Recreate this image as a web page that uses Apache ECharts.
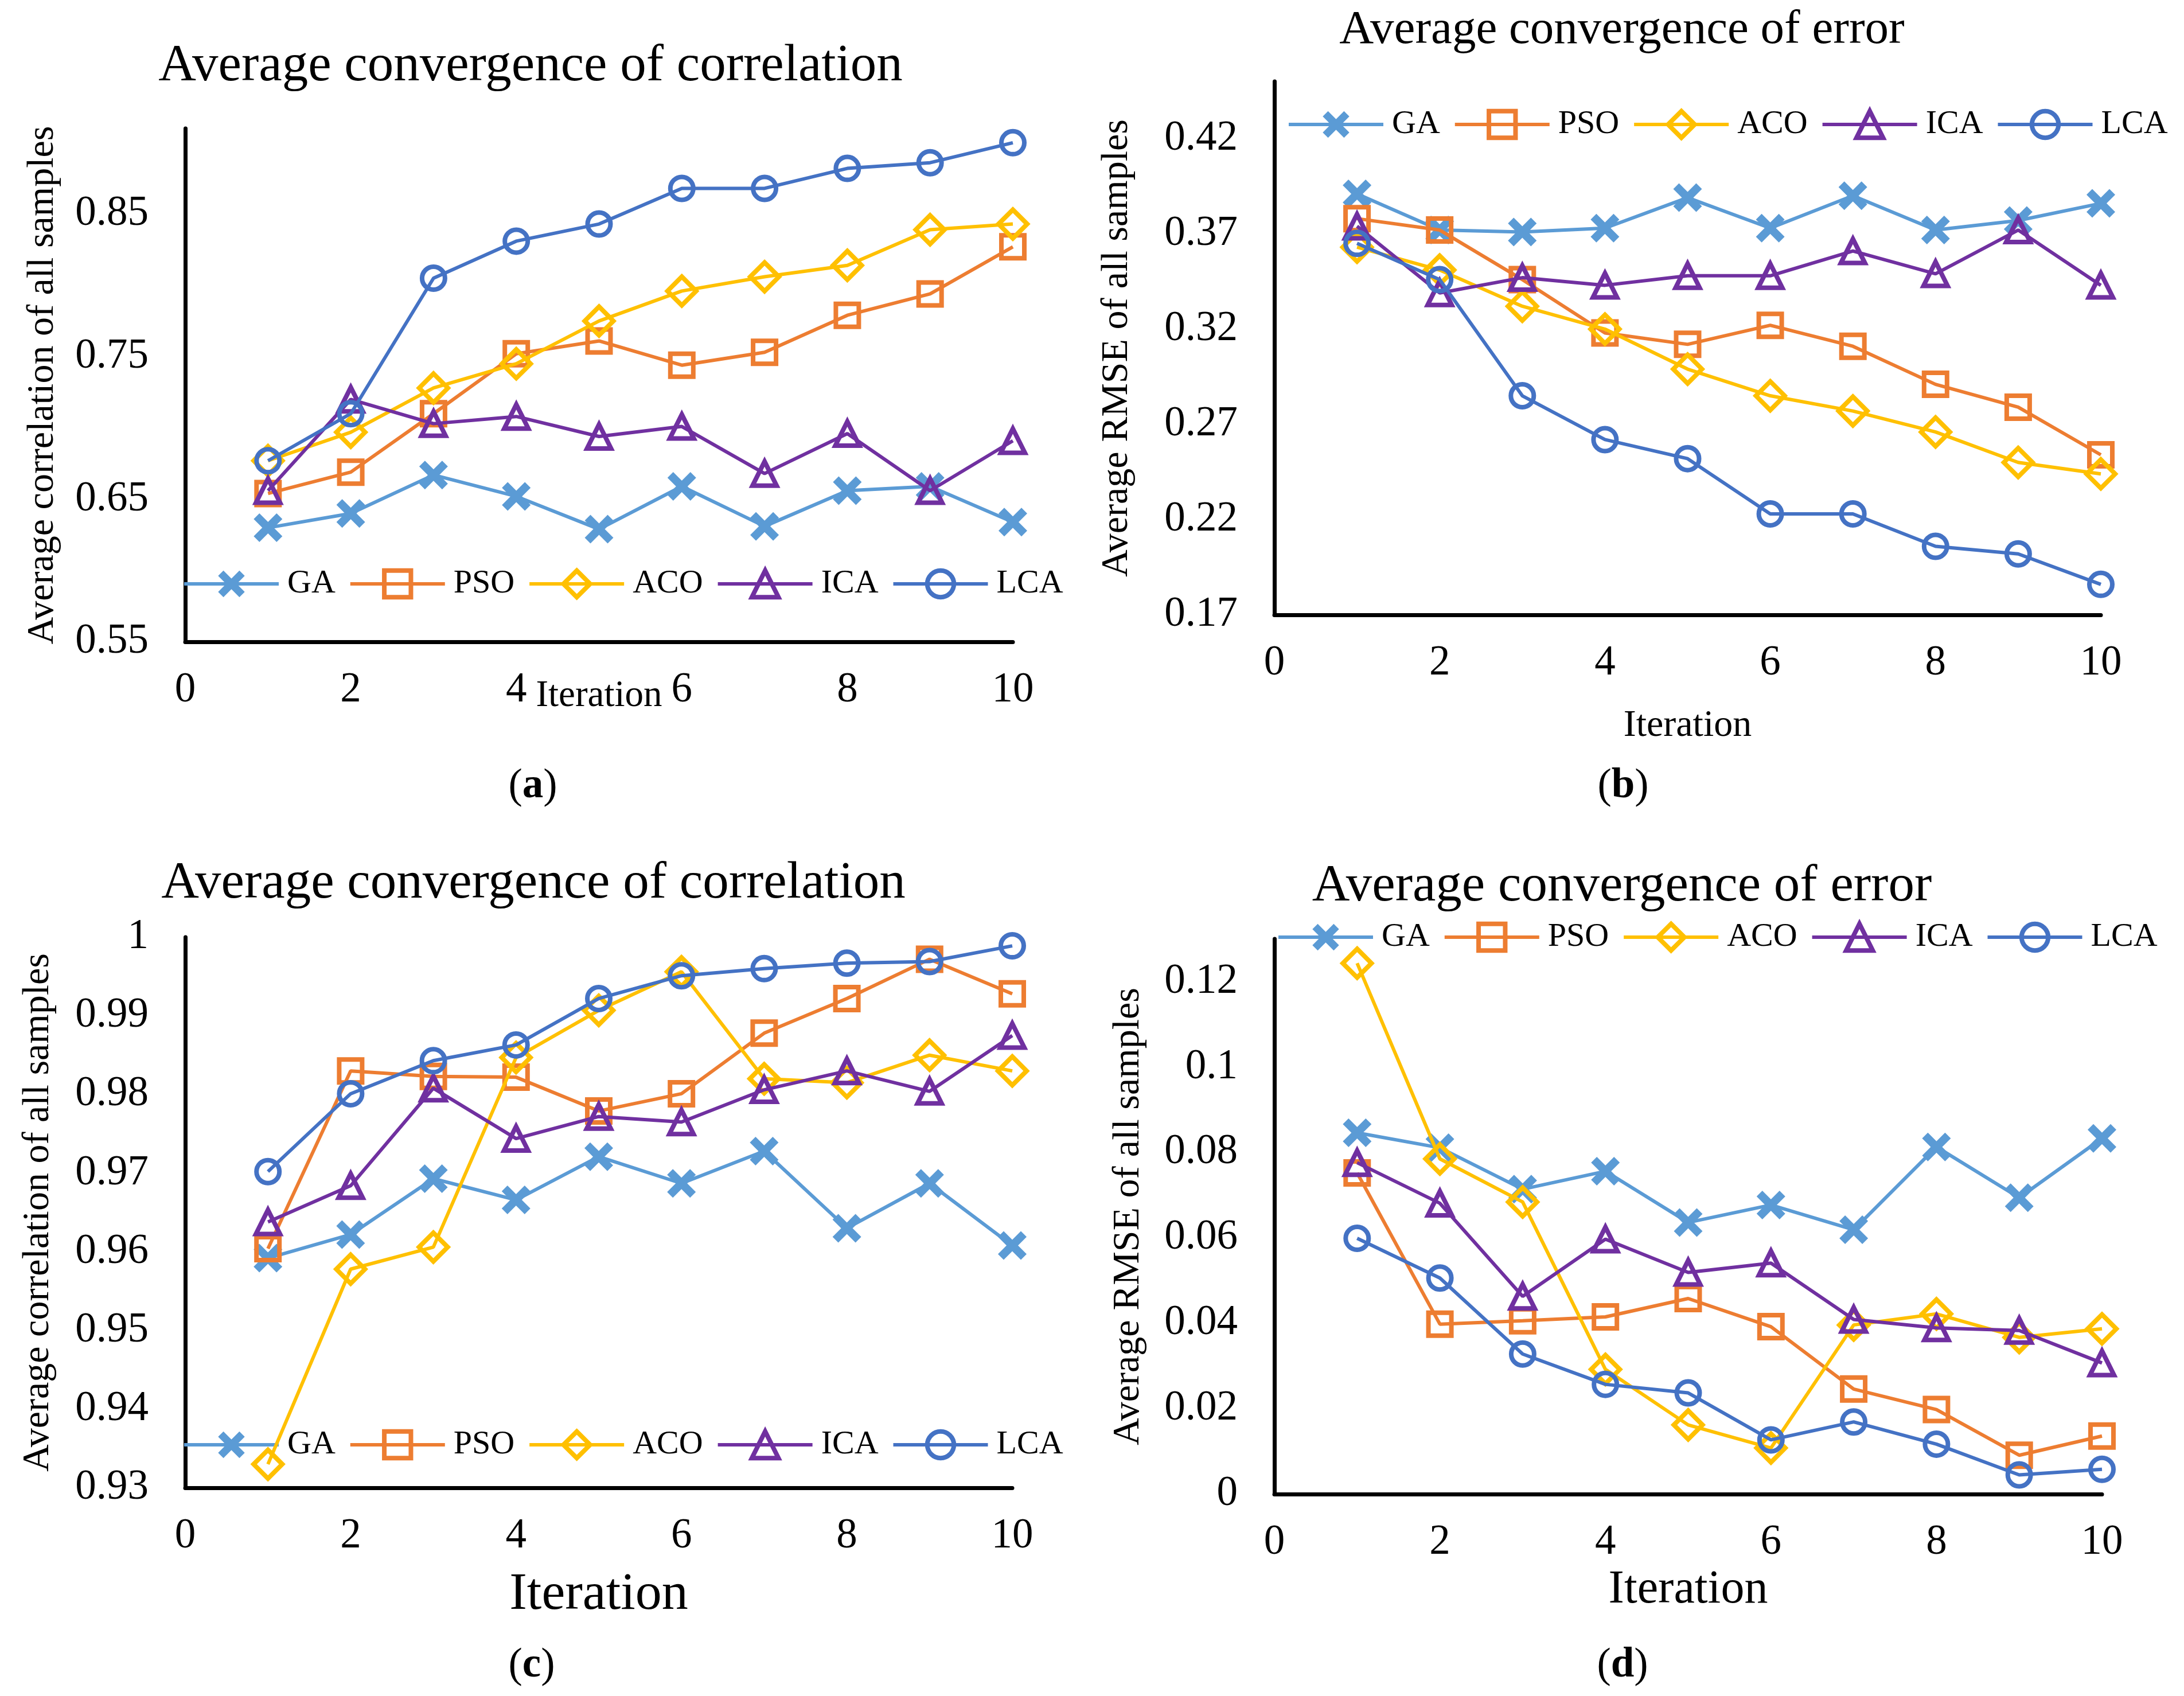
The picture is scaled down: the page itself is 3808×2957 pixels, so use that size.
<!DOCTYPE html>
<html>
<head>
<meta charset="utf-8">
<script src="https://cdn.jsdelivr.net/npm/echarts@6/dist/echarts.min.js"></script>
<style>
html,body{margin:0;padding:0;background:#fff;overflow:hidden}
#c{width:3808px;height:2957px}
</style>
</head>
<body>
<div id="c"></div>
<script>
// ---------- data ----------
const iterations = [1, 2, 3, 4, 5, 6, 7, 8, 9, 10];
const seriesNames = ['GA', 'PSO', 'ACO', 'ICA', 'LCA'];

// (a) Average convergence of correlation
const corrA_GA  = [0.630, 0.640, 0.667, 0.652, 0.629, 0.659, 0.631, 0.656, 0.659, 0.634];
const corrA_PSO = [0.654, 0.669, 0.710, 0.752, 0.761, 0.744, 0.753, 0.779, 0.794, 0.827];
const corrA_ACO = [0.677, 0.697, 0.728, 0.745, 0.775, 0.796, 0.806, 0.814, 0.839, 0.843];
const corrA_ICA = [0.656, 0.720, 0.703, 0.708, 0.694, 0.701, 0.668, 0.696, 0.656, 0.691];
const corrA_LCA = [0.677, 0.710, 0.805, 0.831, 0.843, 0.868, 0.868, 0.882, 0.886, 0.900];

// (b) Average convergence of error
const errB_GA  = [0.391, 0.372, 0.371, 0.373, 0.389, 0.373, 0.390, 0.372, 0.377, 0.386];
const errB_PSO = [0.378, 0.372, 0.346, 0.318, 0.312, 0.322, 0.311, 0.291, 0.279, 0.254];
const errB_ACO = [0.363, 0.351, 0.332, 0.320, 0.299, 0.285, 0.277, 0.266, 0.250, 0.244];
const errB_ICA = [0.374, 0.339, 0.347, 0.343, 0.348, 0.348, 0.361, 0.349, 0.372, 0.343];
const errB_LCA = [0.365, 0.346, 0.285, 0.262, 0.252, 0.223, 0.223, 0.206, 0.202, 0.186];

// (c) Average convergence of correlation
const corrC_GA  = [0.9592, 0.9622, 0.9693, 0.9666, 0.9721, 0.9687, 0.9728, 0.9630, 0.9687, 0.9608];
const corrC_PSO = [0.9604, 0.9830, 0.9823, 0.9822, 0.9779, 0.9801, 0.9878, 0.9922, 0.9972, 0.9928];
const corrC_ACO = [0.9330, 0.9578, 0.9606, 0.9847, 0.9907, 0.9956, 0.9820, 0.9815, 0.9850, 0.9830];
const corrC_ICA = [0.9638, 0.9684, 0.9808, 0.9744, 0.9772, 0.9765, 0.9806, 0.9830, 0.9804, 0.9875];
const corrC_LCA = [0.9702, 0.9801, 0.9843, 0.9863, 0.9922, 0.9951, 0.9960, 0.9967, 0.9969, 0.9989];

// (d) Average convergence of error
const errD_GA  = [0.0846, 0.0811, 0.0714, 0.0756, 0.0636, 0.0677, 0.0619, 0.0813, 0.0694, 0.0833];
const errD_PSO = [0.0752, 0.0398, 0.0406, 0.0415, 0.0458, 0.0392, 0.0246, 0.0198, 0.0091, 0.0136];
const errD_ACO = [0.1243, 0.0785, 0.0684, 0.0292, 0.0162, 0.0108, 0.0396, 0.0422, 0.0367, 0.0387];
const errD_ICA = [0.0776, 0.0681, 0.0463, 0.0597, 0.0519, 0.0541, 0.0409, 0.0389, 0.0383, 0.0307];
const errD_LCA = [0.0599, 0.0506, 0.0328, 0.0257, 0.0237, 0.0127, 0.0169, 0.0117, 0.0045, 0.0058];

// tick labels
const xTickLabels = ['0', '2', '4', '6', '8', '10'];
const yTicksA = ['0.55', '0.65', '0.75', '0.85'];
const yTicksB = ['0.17', '0.22', '0.27', '0.32', '0.37', '0.42'];
const yTicksC = ['0.93', '0.94', '0.95', '0.96', '0.97', '0.98', '0.99', '1'];
const yTicksD = ['0', '0.02', '0.04', '0.06', '0.08', '0.1', '0.12'];

const titleCorr = 'Average convergence of correlation';
const titleErr = 'Average convergence of error';
const yNameCorr = 'Average correlation of all samples';
const yNameErr = 'Average RMSE of all samples';
const xName = 'Iteration';

// ---------- style ----------
const FONT = '"Liberation Serif", "Times New Roman", serif';
const colors = ['#5B9BD5', '#ED7D31', '#FFC000', '#7030A0', '#4472C4'];
const xPath = 'path://M0,0.2 L0.2,0 L0.5,0.3 L0.8,0 L1,0.2 L0.7,0.5 L1,0.8 L0.8,1 L0.5,0.7 L0.2,1 L0,0.8 L0.3,0.5 Z';
const symbols = [xPath, 'rect', 'diamond', 'triangle', 'circle'];
const symbolSizes = [50, 40, 50, 42, 40];
const BORDER = 8;

function tickFmt(labels) {
  return function (v) {
    for (const s of labels) { if (Math.abs(Number(s) - v) < 1e-6) return s; }
    return '';
  };
}

const panels = [
  { data: [corrA_GA, corrA_PSO, corrA_ACO, corrA_ICA, corrA_LCA], ticks: yTicksA, yMax: 0.91, yInt: 0.05,
    grid: { left: 323, top: 224, width: 1443, height: 895 }, yName: yNameCorr, yGap: 215,
    xNameSize: 65, xGap: 62, legend: { left: 318, top: 989 } },
  { data: [errB_GA, errB_PSO, errB_ACO, errB_ICA, errB_LCA], ticks: yTicksB, yMax: 0.45, yInt: 0.01,
    grid: { left: 2222, top: 142, width: 1441, height: 930 }, yName: yNameErr, yGap: 241,
    xNameSize: 66, xGap: 161, legend: { left: 2244, top: 188 } },
  { data: [corrC_GA, corrC_PSO, corrC_ACO, corrC_ICA, corrC_LCA], ticks: yTicksC, yMax: 1, yInt: 0.01,
    grid: { left: 323, top: 1634, width: 1442, height: 960 }, yName: yNameCorr, yGap: 223,
    xNameSize: 92, xGap: 141, legend: { left: 318, top: 2490 } },
  { data: [errD_GA, errD_PSO, errD_ACO, errD_ICA, errD_LCA], ticks: yTicksD, yMax: 0.13, yInt: 0.02,
    grid: { left: 2222, top: 1637, width: 1443, height: 968 }, yName: yNameErr, yGap: 221,
    xNameSize: 82, xGap: 126, legend: { left: 2226, top: 1605 } }
];

const grids = [], xAxes = [], yAxes = [], series = [], legends = [];
panels.forEach((p, pi) => {
  grids.push(Object.assign({ containLabel: false }, p.grid));
  xAxes.push({
    type: 'value', gridIndex: pi, min: 0, max: 10, interval: 2,
    axisLine: { show: true, onZero: false, lineStyle: { color: '#000', width: 7 } },
    axisTick: { show: false }, splitLine: { show: false },
    axisLabel: { color: '#000', fontFamily: FONT, fontSize: 73, margin: 48,
      formatter: v => { const s = String(v); return xTickLabels.indexOf(s) >= 0 ? s : ''; } },
    name: xName, nameLocation: 'middle', nameGap: p.xGap, nameMoveOverlap: false,
    nameTextStyle: { color: '#000', fontFamily: FONT, fontSize: p.xNameSize }
  });
  yAxes.push({
    type: 'value', gridIndex: pi, min: Number(p.ticks[0]), max: p.yMax, interval: p.yInt,
    axisLine: { show: true, lineStyle: { color: '#000', width: 7 } },
    axisTick: { show: false }, splitLine: { show: false },
    axisLabel: { color: '#000', fontFamily: FONT, fontSize: 73, margin: 64, formatter: tickFmt(p.ticks) },
    name: p.yName, nameLocation: 'middle', nameGap: p.yGap, nameMoveOverlap: false,
    nameTextStyle: { color: '#000', fontFamily: FONT, fontSize: 66 }
  });
  p.data.forEach((arr, si) => {
    series.push({
      type: 'line', name: seriesNames[si], xAxisIndex: pi, yAxisIndex: pi,
      data: iterations.map((x, i) => [x, arr[i]]),
      symbol: symbols[si], symbolSize: symbolSizes[si],
      lineStyle: { color: colors[si], width: 6 },
      itemStyle: si === 0
        ? { color: colors[si], borderWidth: 0 }
        : { color: 'rgba(255,255,255,0)', borderColor: colors[si], borderWidth: BORDER },
      z: 2 + si
    });
  });
  legends.push({
    left: p.legend.left, top: p.legend.top, orient: 'horizontal', padding: 0,
    itemWidth: 165, itemHeight: 58, itemGap: 23, selectedMode: false,
    data: seriesNames.map((n, si) => ({
      name: n,
      lineStyle: { color: colors[si], width: 6 },
      itemStyle: si === 0
        ? { color: colors[si], borderWidth: 0 }
        : { color: 'rgba(255,255,255,0)', borderColor: colors[si], borderWidth: BORDER }
    })),
    textStyle: { color: '#000', fontFamily: FONT, fontSize: 58, padding: [0, 0, 0, 10] }
  });
});

const titles = [
  { text: titleCorr, left: 925, top: 71, size: 91 },
  { text: titleErr, left: 2828, top: 12, size: 83 },
  { text: titleCorr, left: 930, top: 1496, size: 91 },
  { text: titleErr, left: 2828, top: 1501, size: 91 }
].map(t => ({ text: t.text, left: t.left, top: t.top, textAlign: 'center', padding: 0,
  textStyle: { color: '#000', fontFamily: FONT, fontSize: t.size, fontWeight: 'normal' } }));

const panelLabels = [['a', 929, 1335], ['b', 2830, 1335], ['c', 927, 2868], ['d', 2829, 2868]];
panelLabels.forEach(([l, x, y]) => {
  titles.push({ text: '(' + '{b|' + l + '})', left: x, top: y, textAlign: 'center', padding: 0,
    textStyle: { color: '#000', fontFamily: FONT, fontSize: 73, fontWeight: 'normal',
      rich: { b: { color: '#000', fontFamily: FONT, fontSize: 73, fontWeight: 'bold' } } } });
});

const chart = echarts.init(document.getElementById('c'), null, { renderer: 'canvas' });
chart.setOption({
  backgroundColor: '#fff',
  animation: false,
  color: colors,
  title: titles,
  grid: grids,
  xAxis: xAxes,
  yAxis: yAxes,
  legend: legends,
  series: series
});
</script>
</body>
</html>
